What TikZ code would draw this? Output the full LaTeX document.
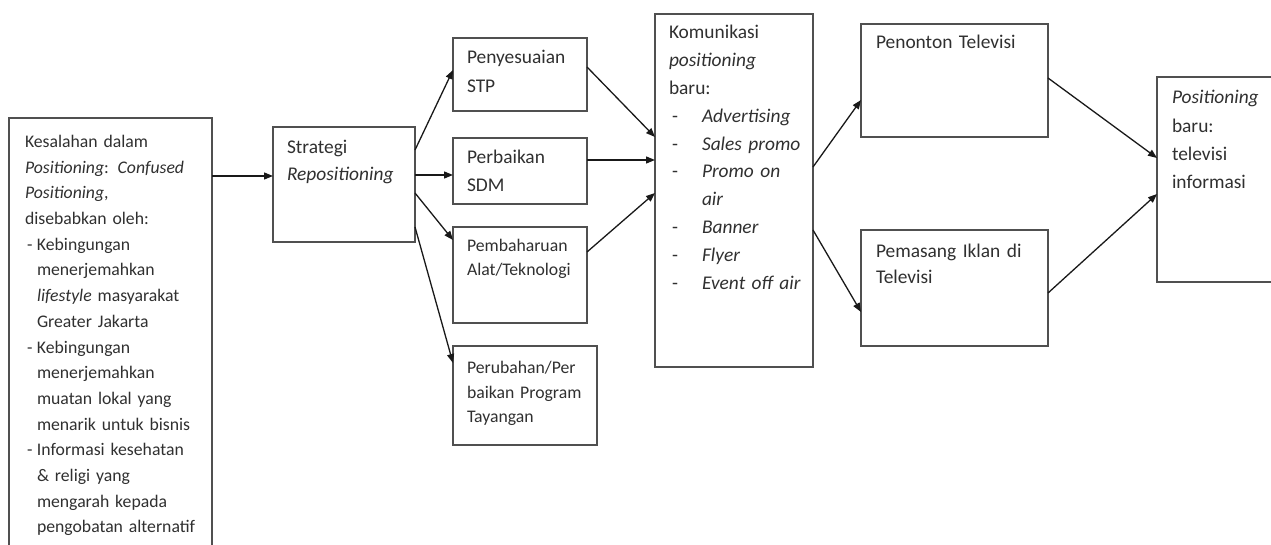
\documentclass[tikz,border=0pt]{standalone}
\usepackage{fontspec}
\setmainfont{Carlito}
\usetikzlibrary{arrows.meta}
\definecolor{boxcol}{HTML}{505050}
\definecolor{txtcol}{HTML}{303030}
\tikzset{
  box/.style={draw=boxcol, line width=1.4pt, inner sep=0pt, outer sep=0pt, anchor=north west},
  txt/.style={inner sep=0pt, outer sep=0pt, anchor=base west, text width=#1, align=left, text=txtcol,
    font=\fontsize{19.4}{27.8}\selectfont},
  txt/.default=200pt,
  arr/.style={draw=black!90, line width=1.3pt, -{Triangle[length=9pt,width=7pt]}}
}
\newcommand{\dsh}[1]{\hspace*{2pt}\makebox[10pt][l]{-}#1}
\newcommand{\ind}[1]{\hspace*{12pt}#1}
\newcommand{\kd}[1]{\hspace*{3pt}\makebox[30pt][l]{-}\textit{#1}}
\newcommand{\ki}[1]{\hspace*{33pt}\textit{#1}}
\begin{document}
\begin{tikzpicture}[x=1pt,y=-1pt]
\clip (0,0) rectangle (1271,545);
\fill[white] (0,0) rectangle (1271,545);

% boxes
\node[box, minimum width=203pt, minimum height=460pt] (b1) at (9,118) {};
\node[box, minimum width=142pt, minimum height=115pt] (strat) at (273,127) {};
\node[box, minimum width=134pt, minimum height=73pt] (stp) at (453,38) {};
\node[box, minimum width=134pt, minimum height=66pt] (sdm) at (453,138) {};
\node[box, minimum width=134pt, minimum height=96pt] (pemb) at (453,227) {};
\node[box, minimum width=144pt, minimum height=99pt] (perub) at (453,346) {};
\node[box, minimum width=158pt, minimum height=353pt] (kom) at (655,14) {};
\node[box, minimum width=187pt, minimum height=113pt] (peno) at (861,24) {};
\node[box, minimum width=187pt, minimum height=116pt] (pema) at (861,230) {};
\node[box, minimum width=140pt, minimum height=205pt] (posb) at (1157,77) {};

% texts
\node[txt, font=\fontsize{17.7}{25.7}\selectfont] (b1t) at (25,147.5) {Kesalahan dalam\\
\textit{Positioning}: \textit{Confused}\\
\textit{Positioning},\\
disebabkan oleh:\\
\dsh{Kebingungan}\\
\ind{menerjemahkan}\\
\ind{\textit{lifestyle} masyarakat}\\
\ind{Greater Jakarta}\\
\dsh{Kebingungan}\\
\ind{menerjemahkan}\\
\ind{muatan lokal yang}\\
\ind{menarik untuk bisnis}\\
\dsh{Informasi kesehatan}\\
\ind{\& religi yang}\\
\ind{mengarah kepada}\\
\ind{pengobatan alternatif}};

\node[txt, font=\fontsize{19.4}{27}\selectfont] (stratt) at (287,154) {Strategi\\\textit{Repositioning}};
\node[txt, font=\fontsize{19.4}{29}\selectfont] (stpt) at (467,64) {Penyesuaian\\STP};
\node[txt, font=\fontsize{19.4}{28}\selectfont] (sdmt) at (467,164) {Perbaikan\\SDM};
\node[txt, font=\fontsize{17.7}{24.5}\selectfont] (pembt) at (467,251.5) {Pembaharuan\\Alat/Teknologi};
\node[txt, font=\fontsize{17.7}{24.5}\selectfont] (perubt) at (467,373.5) {Perubahan/Per\\baikan Program\\Tayangan};
\node[txt, font=\fontsize{19.4}{27.8}\selectfont] (komt) at (669,39) {Komunikasi\\
\textit{positioning}\\
baru:\\
\kd{Advertising}\\
\kd{Sales promo}\\
\kd{Promo on}\\
\ki{air}\\
\kd{Banner}\\
\kd{Flyer}\\
\kd{Event off air}};
\node[txt] (penot) at (876,49) {Penonton Televisi};
\node[txt, font=\fontsize{19.4}{26}\selectfont] (pemat) at (876,258) {Pemasang Iklan di\\Televisi};
\node[txt, font=\fontsize{19.4}{28.3}\selectfont] (posbt) at (1172,104) {\textit{Positioning}\\baru:\\televisi\\informasi};

% connectors
\draw[arr] ([yshift=-58pt]b1.north east) -- ([yshift=-49pt]strat.north west);
\draw[arr] ([yshift=-23pt]strat.north east) -- ([yshift=-32pt]stp.north west);
\draw[arr] ([yshift=-48pt]strat.north east) -- ([yshift=-37pt]sdm.north west);
\draw[arr] ([yshift=-66pt]strat.north east) -- ([yshift=-13pt]pemb.north west);
\draw[arr] ([yshift=-100pt]strat.north east) -- ([yshift=-17pt]perub.north west);
\draw[arr] ([yshift=-29pt]stp.north east) -- ([yshift=-123pt]kom.north west);
\draw[arr] ([yshift=-22pt]sdm.north east) -- ([yshift=-146pt]kom.north west);
\draw[arr] ([yshift=-25pt]pemb.north east) -- ([yshift=-179pt]kom.north west);
\draw[arr] ([yshift=-153pt]kom.north east) -- ([yshift=-76pt]peno.north west);
\draw[arr] ([yshift=-216pt]kom.north east) -- ([yshift=-82pt]pema.north west);
\draw[arr] ([yshift=-54pt]peno.north east) -- ([yshift=-81pt]posb.north west);
\draw[arr] ([yshift=-63pt]pema.north east) -- ([yshift=-117pt]posb.north west);
\end{tikzpicture}
\end{document}
